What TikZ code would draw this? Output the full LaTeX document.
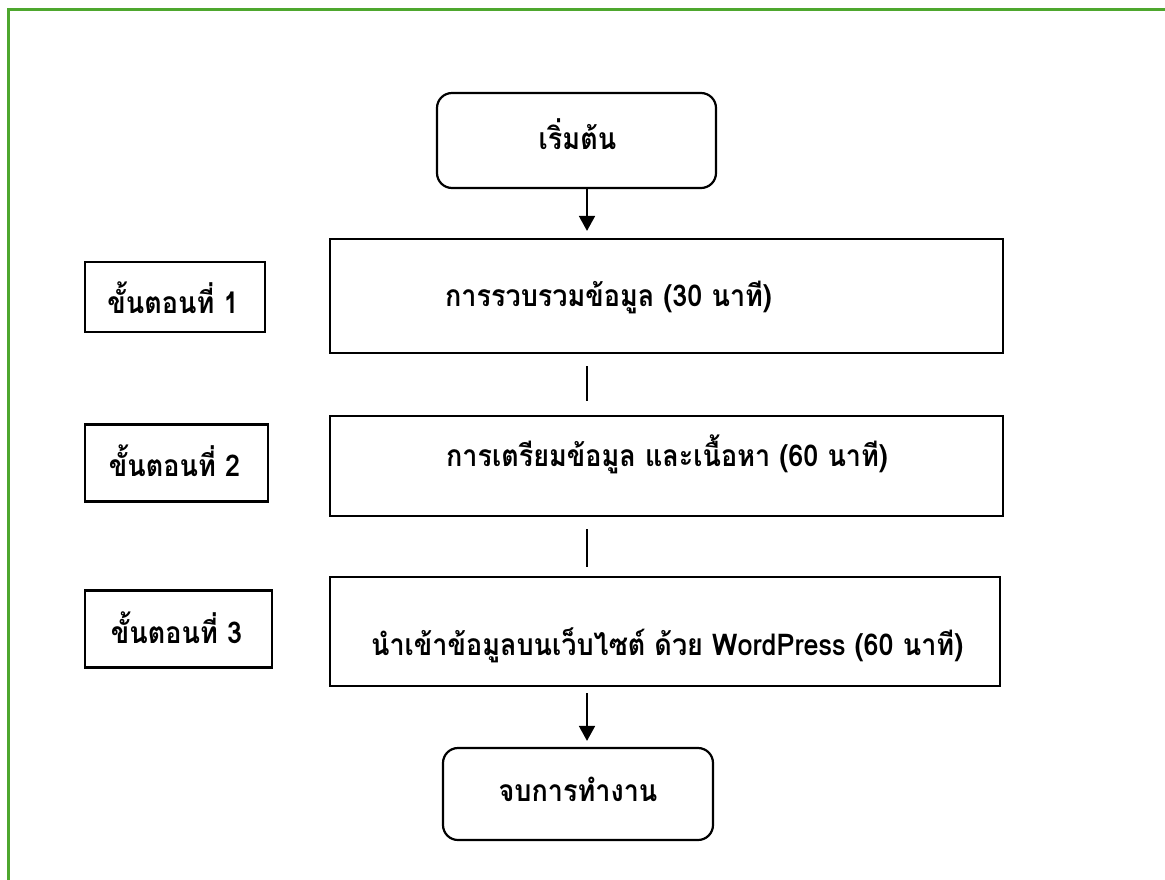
\documentclass[tikz,border=0pt]{standalone}
\usepackage{fontspec}
\newfontfamily\thaifont[Script=Thai,FakeStretch=0.9]{Loma}
\usetikzlibrary{arrows.meta,calc}
\definecolor{framegreen}{RGB}{78,167,46}
\begin{document}
\begin{tikzpicture}[x=1pt,y=-1pt,
  font=\thaifont\bfseries\fontsize{30}{34}\selectfont,
  every label/.style={inner sep=0pt},
  box/.style={draw, line width=2.2pt, rectangle, inner sep=0pt},
  term/.style={box, rounded corners=15pt},
  conn/.style={line width=1.8pt},
  arr/.style={conn, -{Triangle[length=15pt,width=16pt]}}]
\useasboundingbox (0,0) rectangle (1165,879);
\draw[framegreen, line width=3pt] (8,885) -- (8,9) -- (1170,9);

\coordinate (col) at (587,0);

\node[term, minimum width=279pt, minimum height=95pt,
  label={[xshift=1pt,yshift=6pt]center:เริ่มต้น}] (start) at (576.5,140.5) {};
\node[box, minimum width=673pt, minimum height=114pt,
  label={[anchor=west,xshift=116pt,yshift=-1pt]west:การรวบรวมข้อมูล (30 นาที)}] (b1) at (666.5,296) {};
\node[box, minimum width=673pt, minimum height=100pt,
  label={[anchor=west,xshift=117pt,yshift=12pt]west:การเตรียมข้อมูล และเนื้อหา (60 นาที)}] (b2) at (666.5,466) {};
\node[box, minimum width=670pt, minimum height=109pt,
  label={[anchor=west,xshift=42pt,yshift=-14pt]west:นำเข้าข้อมูลบนเว็บไซต์ ด้วย WordPress (60 นาที)}] (b3) at (665,631.5) {};
\node[term, minimum width=270pt, minimum height=92pt,
  label={[yshift=5pt]center:จบการทำงาน}] (end) at (578,794) {};

\node[box, minimum width=180pt, minimum height=70pt,
  label={[xshift=-2pt,yshift=-1pt]center:ขั้นตอนที่ 1}] (s1) at (175,297) {};
\node[box, minimum width=183pt, minimum height=77pt,
  label={[xshift=-2pt,yshift=2pt]center:ขั้นตอนที่ 2}] (s2) at (176.5,463) {};
\node[box, minimum width=187pt, minimum height=77pt,
  label={[xshift=-2pt,yshift=1pt]center:ขั้นตอนที่ 3}] (s3) at (178.5,629) {};

\draw[arr, shorten >=7pt] (start.south -| col) -- (b1.north -| col);
\draw[conn, shorten <=12pt, shorten >=14pt] (b1.south -| col) -- (b2.north -| col);
\draw[conn, shorten <=12pt, shorten >=9pt] (b2.south -| col) -- (b3.north -| col);
\draw[arr, shorten <=6pt, shorten >=6pt] (b3.south -| col) -- (end.north -| col);
\end{tikzpicture}
\end{document}
